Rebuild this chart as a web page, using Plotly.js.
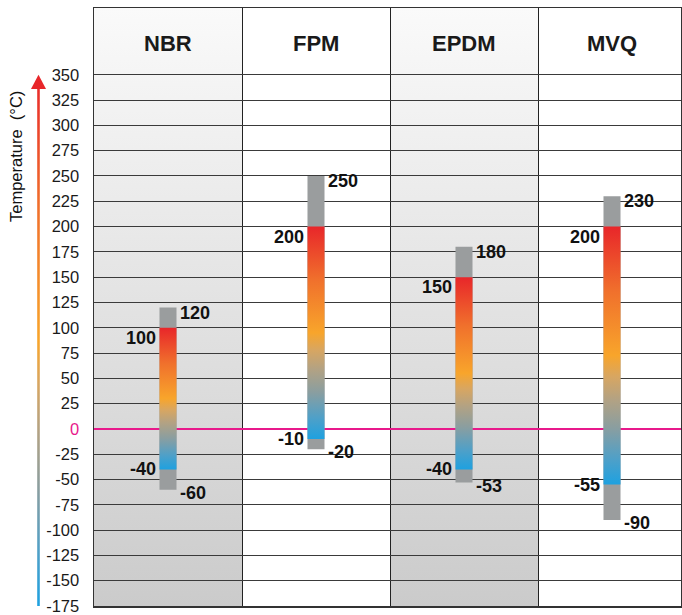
<!DOCTYPE html>
<html><head><meta charset="utf-8">
<script src="https://cdn.plot.ly/plotly-3.0.1.min.js"></script>
<style>html,body{margin:0;padding:0;background:#fff}</style>
</head><body><div id="chart" style="width:682px;height:615px"></div>
<script>
// ---- data ----
const categories = ['NBR', 'FPM', 'EPDM', 'MVQ'];
const maxTemp = [120, 250, 180, 230];   // upper limit (grey cap)
const opMax   = [100, 200, 150, 200];   // upper working temperature
const opMin   = [-40, -10, -40, -55];   // lower working temperature
const minTemp = [-60, -20, -53, -90];   // lower limit (grey cap)
const yTicks = [-175, -150, -125, -100, -75, -50, -25, 0, 25, 50, 75, 100, 125, 150, 175, 200, 225, 250, 275, 300, 325, 350];
const shaded = [true, false, true, false];
const axisTitle = 'Temperature\u00a0 (\u00b0C)';

// ---- style ----
const FONT = '"Liberation Sans", Arial, Helvetica, sans-serif';
const PINK = '#e8198b';
const GREY = '#9a9d9e';
const Y_TOP = 416;            // top of header band
const Y_MIN = -175;
const X_MAX = -0.5 + 587 / 148;
const HALF = 0.0575;          // half bar width (category units)
const barScale = [[0, '#1ea1e0'], [0.1, '#4fa0c8'], [0.22, '#8a9ea0'], [0.33, '#b3a283'],
                  [0.42, '#d8a661'], [0.5, '#f8a52b'], [0.75, '#f0702c'], [1, '#e8262a']];
const bgScale = [[0, '#cbcbcb'], [1, '#fafafa']];

const traces = [];
// background shaded columns (subplot x/y, underneath grid)
categories.forEach((c, i) => {
  if (!shaded[i]) return;
  traces.push({
    type: 'scatter', mode: 'lines', xaxis: 'x', yaxis: 'y',
    x: [i - 0.5, i + 0.5, i + 0.5, i - 0.5, i - 0.5],
    y: [Y_MIN, Y_MIN, Y_TOP, Y_TOP, Y_MIN],
    fill: 'toself', line: {width: 0}, hoverinfo: 'skip', showlegend: false,
    fillgradient: {type: 'vertical', colorscale: bgScale}
  });
});
// bars (subplot x2/y2, above grid)
categories.forEach((c, i) => {
  traces.push({
    type: 'scatter', mode: 'lines', xaxis: 'x2', yaxis: 'y2',
    x: [i - HALF, i + HALF, i + HALF, i - HALF, i - HALF],
    y: [minTemp[i], minTemp[i], maxTemp[i], maxTemp[i], minTemp[i]],
    fill: 'toself', fillcolor: GREY, line: {width: 0}, hoverinfo: 'skip', showlegend: false
  });
  traces.push({
    type: 'scatter', mode: 'lines', xaxis: 'x2', yaxis: 'y2',
    x: [i - HALF, i + HALF, i + HALF, i - HALF, i - HALF],
    y: [opMin[i], opMin[i], opMax[i], opMax[i], opMin[i]],
    fill: 'toself', line: {width: 0}, hoverinfo: 'skip', showlegend: false,
    fillgradient: {type: 'vertical', colorscale: barScale, start: opMin[i], stop: opMax[i]}
  });
});
// temperature arrow in left margin (subplot x3/y3)
const arrowTop = yTicks[yTicks.length - 1];
const arrowBot = yTicks[0];
traces.push({
  type: 'scatter', mode: 'lines', xaxis: 'x3', yaxis: 'y3',
  x: [37.2, 39.8, 39.8, 37.2, 37.2],
  y: [arrowBot, arrowBot, arrowTop - 13, arrowTop - 13, arrowBot],
  fill: 'toself', line: {width: 0}, hoverinfo: 'skip', showlegend: false,
  fillgradient: {type: 'vertical', colorscale: barScale, start: arrowBot, stop: arrowTop}
});
traces.push({
  type: 'scatter', mode: 'lines', xaxis: 'x3', yaxis: 'y3',
  x: [31, 46, 38.5, 31], y: [arrowTop - 14, arrowTop - 14, arrowTop, arrowTop - 14],
  fill: 'toself', fillcolor: '#e8262a', line: {width: 0}, hoverinfo: 'skip', showlegend: false
});

// annotations
const ann = [];
categories.forEach((c, i) => {
  ann.push({xref: 'x2', yref: 'y2', x: i, y: 381, text: '<b>' + c + '</b>', showarrow: false,
            font: {family: FONT, size: 22, color: '#1a1a1a'}, xanchor: 'center', yanchor: 'middle'});
  const lf = {family: FONT, size: 18, color: '#111'};
  ann.push({xref: 'x2', yref: 'y2', x: i + HALF, y: maxTemp[i], text: '<b>' + maxTemp[i] + '</b>', showarrow: false,
            font: lf, xanchor: 'left', yanchor: 'middle', xshift: 1, yshift: -5});
  ann.push({xref: 'x2', yref: 'y2', x: i - HALF, y: opMax[i], text: '<b>' + opMax[i] + '</b>', showarrow: false,
            font: lf, xanchor: 'right', yanchor: 'middle', xshift: -1, yshift: -10});
  ann.push({xref: 'x2', yref: 'y2', x: i - HALF, y: opMin[i], text: '<b>' + opMin[i] + '</b>', showarrow: false,
            font: lf, xanchor: 'right', yanchor: 'middle', xshift: -1, yshift: 0});
  ann.push({xref: 'x2', yref: 'y2', x: i + HALF, y: minTemp[i], text: '<b>' + minTemp[i] + '</b>', showarrow: false,
            font: lf, xanchor: 'left', yanchor: 'middle', xshift: 1, yshift: -3});
});
ann.push({xref: 'paper', yref: 'paper', x: 16 / 681, y: 1 - (157 - 8) / 598, text: axisTitle, textangle: -90,
          showarrow: false, font: {family: FONT, size: 16.5, color: '#111'}, xanchor: 'center', yanchor: 'middle'});

const dom = [94 / 681, 1];
const hidden = {visible: false, showgrid: false, zeroline: false, fixedrange: true};
const layout = {
  width: 682, height: 615,
  margin: {l: 0, r: 1, t: 8, b: 9, pad: 0},
  paper_bgcolor: '#ffffff', plot_bgcolor: 'rgba(0,0,0,0)',
  showlegend: false,
  font: {family: FONT, color: '#111'},
  xaxis: Object.assign({domain: dom, range: [-0.5, X_MAX], anchor: 'y'}, hidden),
  yaxis: Object.assign({domain: [0, 1], range: [Y_MIN, Y_TOP], anchor: 'x'}, hidden),
  xaxis2: {domain: dom, range: [-0.5, X_MAX], anchor: 'y2', fixedrange: true,
           tickmode: 'array', tickvals: [0.5, 1.5, 2.5], showticklabels: false, ticks: '',
           showgrid: true, gridcolor: '#222', gridwidth: 1, zeroline: false,
           showline: true, mirror: true, linecolor: '#333', linewidth: 1.5},
  yaxis2: {domain: [0, 1], range: [Y_MIN, Y_TOP], anchor: 'x2', fixedrange: true,
           tickmode: 'array', tickvals: yTicks,
           ticktext: yTicks.map(v => v === 0 ? '<span style="color:' + PINK + '">0</span>' : String(v)),
           tickfont: {family: FONT, size: 16.5, color: '#1a1a1a'}, ticks: '', ticklabelstandoff: 10,
           showgrid: true, gridcolor: '#3a3a3a', gridwidth: 1,
           zeroline: true, zerolinecolor: PINK, zerolinewidth: 2.5,
           showline: true, mirror: true, linecolor: '#333', linewidth: 1.5},
  xaxis3: Object.assign({domain: [0, 94 / 681], range: [0, 94], anchor: 'y3'}, hidden),
  yaxis3: Object.assign({domain: [0, 1], range: [Y_MIN, Y_TOP], anchor: 'x3'}, hidden),
  annotations: ann
};
Plotly.newPlot('chart', traces, layout, {displayModeBar: false, staticPlot: true});
</script></body></html>
